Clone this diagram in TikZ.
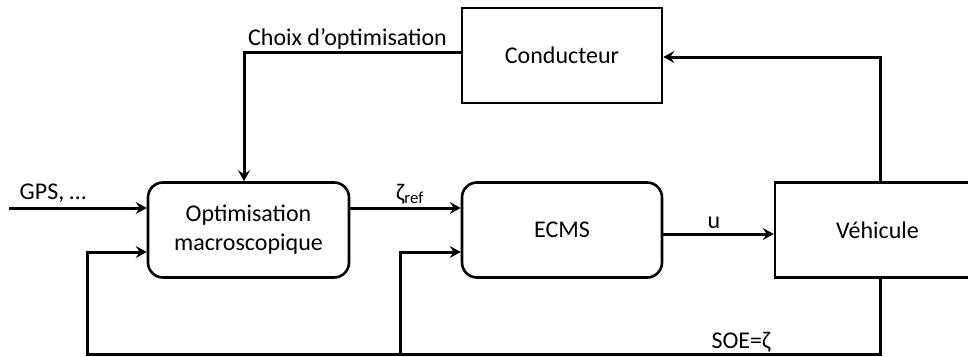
\documentclass[tikz,border=0pt]{standalone}
\usepackage{fontspec}
\setmainfont{Carlito}
\usetikzlibrary{arrows.meta}
\begin{document}
\begin{tikzpicture}[x=1pt,y=-1pt,
  box/.style={draw, line width=2.6pt, minimum width=200pt, minimum height=95pt, inner sep=0pt, font=\fontsize{24}{29}\selectfont, align=center},
  rbox/.style={box, rounded corners=15pt},
  lbl/.style={font=\fontsize{24}{29}\selectfont, inner sep=0pt, anchor=base},
  arr/.style={-{Stealth[length=11pt,width=12pt,inset=4pt]}, line width=3pt}]
\useasboundingbox (0,0) rectangle (968,356);
\node[box] (cond) at (562,55.5) {Conducteur};
\node[rbox, minimum width=201pt] (opt) at (248.5,230) {Optimisation\\macroscopique};
\node[rbox] (ecms) at (562,230) {ECMS};
\node[box, minimum width=205pt] (veh) at (877.5,230) {Véhicule};
\coordinate (gps) at (9,208);
\coordinate (choix) at (244,52);
\coordinate (vt) at (880,57);
\coordinate (vb) at (880,354);
\coordinate (bl) at (87,354);
\coordinate (bm) at (400,354);
\coordinate (uy) at (0,234);
\coordinate (fb) at (0,252);
\draw[arr] (cond.west |- choix) -- (choix) -- (choix |- opt.north);
\draw[arr] (gps) -- (gps -| opt.west);
\draw[arr] (opt.east |- gps) -- (ecms.west |- gps);
\draw[arr] (ecms.east |- uy) -- (veh.west |- uy);
\draw[arr] (veh.north -| vt) -- (vt) -- (cond.east |- vt);
\draw[arr] (veh.south -| vb) -- (vb) -- (bl) -- (bl |- fb) -- (opt.west |- fb);
\draw[arr] (bm) -- (bm |- fb) -- (ecms.west |- fb);
\node[lbl] (lchoix) at (347.5,45) {Choix d’optimisation};
\node[lbl] (lgps) at (53,199) {GPS, …};
\node[lbl] (lzeta) at (410,200) {ζ\textsubscript{ref}};
\node[lbl] (lu) at (714,228) {u};
\node[lbl] (lsoe) at (741,348) {SOE=ζ};
\end{tikzpicture}
\end{document}
